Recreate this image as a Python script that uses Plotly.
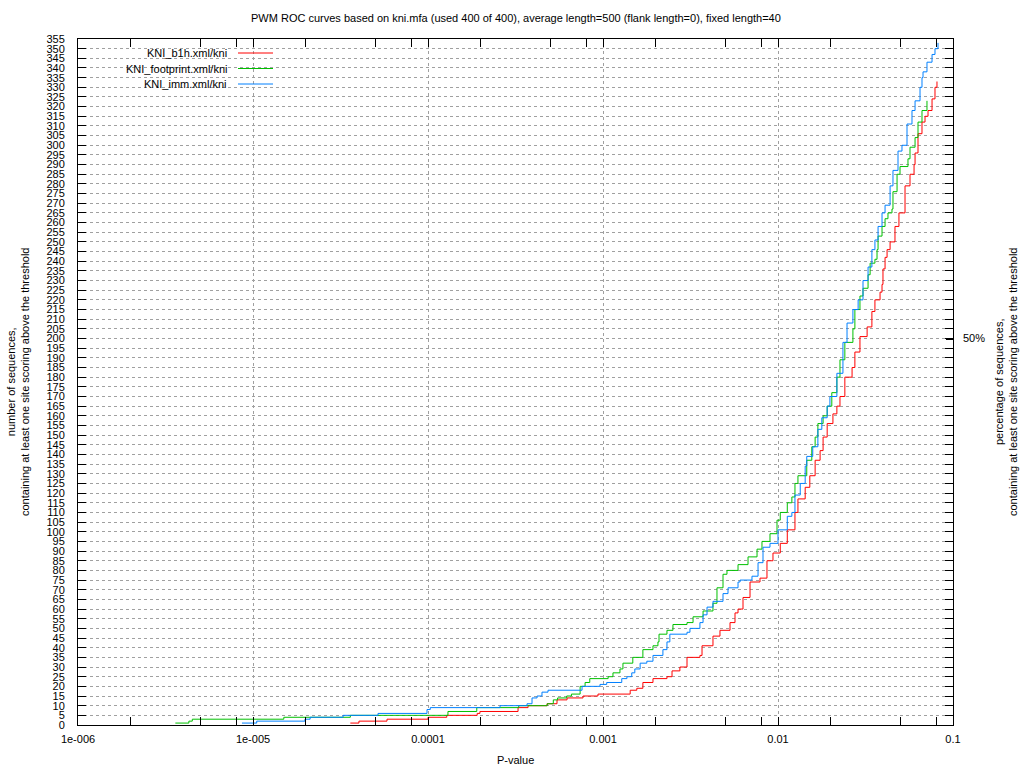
import plotly.graph_objects as go

# ROC step curves: p-value thresholds where the count steps up, and the count reached
b1h_p = [3.6e-5, 4.03e-5, 5.83e-5, 1.0e-4, 1.28e-4, 1.91e-4, 1.98e-4, 3.27e-4, 3.73e-4, 4.79e-4,
         5.46e-4, 6.23e-4, 7.69e-4, 9.36e-4, 1.43e-3, 1.56e-3, 1.69e-3, 1.93e-3, 2.32e-3, 2.48e-3,
         2.75e-3, 3.02e-3, 3.58e-3, 3.68e-3, 4.25e-3, 4.66e-3, 5.32e-3, 5.68e-3, 5.91e-3, 6.31e-3,
         6.92e-3, 7.89e-3, 8.65e-3, 9.36e-3, 1.03e-2, 1.13e-2, 1.25e-2, 1.3e-2, 1.43e-2, 1.52e-2,
         1.63e-2, 1.74e-2, 1.81e-2, 1.91e-2, 2.06e-2, 2.17e-2, 2.26e-2, 2.41e-2, 2.65e-2, 2.75e-2,
         2.94e-2, 3.23e-2, 3.44e-2, 3.58e-2, 3.83e-2, 3.93e-2, 3.98e-2, 4.09e-2, 4.2e-2, 4.37e-2,
         4.66e-2, 4.91e-2, 5.32e-2, 5.68e-2, 5.99e-2, 6.07e-2, 6.31e-2, 6.65e-2, 6.92e-2, 7.2e-2,
         7.59e-2, 7.89e-2, 8.1e-2]
b1h_n = [1, 2, 3, 4, 5, 6, 7, 9, 10, 11,
         13, 14, 15, 16, 18, 19, 22, 24, 25, 28,
         30, 35, 36, 41, 46, 49, 53, 58, 60, 66,
         74, 76, 85, 89, 94, 101, 110, 117, 123, 129,
         137, 142, 149, 156, 161, 165, 170, 180, 185, 193,
         201, 206, 214, 220, 224, 228, 236, 242, 246, 250,
         258, 265, 279, 285, 290, 296, 306, 312, 315, 318,
         324, 330, 333]

footprint_p = [3.6e-6, 4.3e-6, 4.5e-6, 1.5e-5, 3.6e-5, 1.3e-4, 1.9e-4, 3.3e-4, 4.8e-4, 5.2e-4,
               5.5e-4, 6.2e-4, 6.6e-4, 7.4e-4, 7.9e-4, 8.4e-4, 1.07e-3, 1.14e-3, 1.25e-3, 1.3e-3,
               1.48e-3, 1.69e-3, 1.93e-3, 2.06e-3, 2.09e-3, 2.32e-3, 2.51e-3, 3.02e-3, 3.27e-3, 3.73e-3,
               4.25e-3, 4.48e-3, 4.85e-3, 5.11e-3, 5.91e-3, 6.74e-3, 7.59e-3, 8.1e-3, 9.0e-3, 9.87e-3,
               1.03e-2, 1.13e-2, 1.2e-2, 1.25e-2, 1.3e-2, 1.46e-2, 1.56e-2, 1.63e-2, 1.69e-2, 1.81e-2,
               1.91e-2, 2.03e-2, 2.17e-2, 2.26e-2, 2.41e-2, 2.68e-2, 2.75e-2, 2.94e-2, 3.06e-2, 3.27e-2,
               3.36e-2, 3.58e-2, 3.68e-2, 3.73e-2, 3.93e-2, 4.09e-2, 4.25e-2, 4.48e-2, 4.54e-2, 4.79e-2,
               4.98e-2, 5.53e-2, 5.68e-2, 6.07e-2, 6.31e-2, 6.65e-2, 7.1e-2]
footprint_n = [1, 2, 3, 4, 5, 7, 9, 10, 11, 13,
               14, 15, 16, 20, 22, 24, 25, 27, 29, 32,
               35, 39, 41, 43, 47, 49, 52, 53, 56, 59,
               63, 71, 78, 80, 83, 87, 91, 95, 99, 106,
               110, 115, 118, 125, 129, 137, 144, 149, 156, 160,
               165, 172, 180, 189, 198, 205, 215, 222, 226, 233,
               239, 241, 246, 253, 258, 262, 265, 267, 276, 285,
               289, 293, 299, 304, 312, 318, 323]

imm_p = [8.65e-6, 1.05e-5, 1.98e-5, 2.12e-5, 3.27e-5, 5.18e-5, 9.87e-5, 1.03e-4, 2.58e-4, 3.68e-4,
         3.93e-4, 4.2e-4, 4.48e-4, 4.85e-4, 7.59e-4, 9.61e-4, 1.05e-3, 1.28e-3, 1.37e-3, 1.46e-3,
         1.52e-3, 1.63e-3, 1.78e-3, 1.93e-3, 2.2e-3, 2.32e-3, 2.41e-3, 3.02e-3, 3.14e-3, 3.58e-3,
         3.73e-3, 3.93e-3, 4.25e-3, 4.85e-3, 5.18e-3, 5.91e-3, 6.07e-3, 7.1e-3, 7.69e-3, 8.21e-3,
         9.0e-3, 1.0e-2, 1.13e-2, 1.2e-2, 1.25e-2, 1.34e-2, 1.43e-2, 1.46e-2, 1.58e-2, 1.69e-2,
         1.78e-2, 1.91e-2, 1.98e-2, 2.17e-2, 2.35e-2, 2.48e-2, 2.68e-2, 2.87e-2, 3.06e-2, 3.27e-2,
         3.44e-2, 3.58e-2, 3.73e-2, 3.93e-2, 4.09e-2, 4.37e-2, 4.54e-2, 4.85e-2, 5.11e-2, 5.46e-2,
         5.83e-2, 6.07e-2, 6.48e-2, 6.65e-2, 6.74e-2, 7.1e-2, 7.59e-2, 7.89e-2, 8.21e-2]
imm_n = [1, 2, 3, 4, 5, 6, 8, 9, 10, 11,
         14, 15, 17, 18, 20, 21, 22, 24, 25, 27,
         29, 32, 33, 36, 39, 43, 47, 48, 50, 53,
         57, 61, 64, 68, 71, 74, 75, 77, 84, 92,
         94, 101, 108, 110, 119, 125, 134, 139, 144, 153,
         159, 165, 170, 182, 198, 208, 215, 220, 230, 237,
         246, 251, 258, 265, 269, 279, 287, 297, 300, 311,
         318, 323, 330, 335, 338, 343, 347, 350, 353]

series_names = ["KNI_b1h.xml/kni", "KNI_footprint.xml/kni", "KNI_imm.xml/kni"]
series_colors = ["#ff0000", "#00c000", "#0080ff"]

x_tickvals = [1e-6, 1e-5, 1e-4, 1e-3, 1e-2, 1e-1]
x_ticktext = ["1e-006", "1e-005", "0.0001", "0.001", "0.01", "0.1"]
x_minor = [2e-6, 5e-6, 8e-6, 2e-5, 5e-5, 8e-5, 2e-4, 5e-4, 8e-4,
           2e-3, 5e-3, 8e-3, 2e-2, 5e-2, 8e-2]

title = "PWM ROC curves based on kni.mfa (used 400 of 400), average length=500 (flank length=0), fixed length=40"
font = "Liberation Sans, Arial, sans-serif"

fig = go.Figure()
for name, color, px_, n_ in zip(series_names, series_colors,
                                [b1h_p, footprint_p, imm_p], [b1h_n, footprint_n, imm_n]):
    fig.add_trace(go.Scatter(x=px_, y=n_, mode="lines", name=name, line_shape="hv",
                             line=dict(color=color, width=1), showlegend=False))
# empty trace so the right axis gets drawn
fig.add_trace(go.Scatter(x=[], y=[], yaxis="y2", showlegend=False))

fig.update_layout(
    width=1024, height=768,
    margin=dict(l=78, r=71, t=39, b=43),
    paper_bgcolor="white", plot_bgcolor="white",
    font=dict(family=font, size=11, color="black"),
    xaxis=dict(type="log", range=[-6, -1], tickvals=x_tickvals, ticktext=x_ticktext,
               ticks="inside", ticklen=8, tickcolor="black", showline=True, linecolor="black",
               linewidth=1, mirror="allticks", showgrid=True, gridcolor="#a0a0a0",
               griddash="3px,3px", gridwidth=1, zeroline=False, ticklabelstandoff=4,
               minor=dict(tickvals=x_minor, ticks="inside", ticklen=4, tickcolor="black",
                          showgrid=False)),
    yaxis=dict(range=[0, 355], dtick=5, tick0=0, ticks="inside", ticklen=8, tickcolor="black",
               showline=True, linecolor="black", linewidth=1, mirror="allticks",
               showgrid=True, gridcolor="#a0a0a0", griddash="3px,3px", gridwidth=1,
               zeroline=False, ticklabelstandoff=10),
    yaxis2=dict(range=[0, 355], overlaying="y", side="right", tickvals=[200], ticktext=["50%"],
                ticks="inside", ticklen=7, tickwidth=2, tickcolor="black", showgrid=False,
                showline=False, zeroline=False, ticklabelstandoff=9),
    showlegend=False,
)

# axis titles
fig.add_annotation(text=title, xref="paper", yref="paper", x=0.5, y=1.0 + 21 / 686,
                   showarrow=False, xanchor="center", yanchor="middle", font=dict(size=11))
fig.add_annotation(text="P-value", xref="paper", yref="paper", x=0.5, y=-35 / 686,
                   showarrow=False, xanchor="center", yanchor="middle", font=dict(size=11))
fig.add_annotation(text="number of sequences,<br>containing at least one site scoring above the threshold",
                   xref="paper", yref="paper", x=-60 / 875, y=0.5, textangle=-90,
                   showarrow=False, xanchor="center", yanchor="middle", font=dict(size=11))
fig.add_annotation(text="percentage of sequences,<br>containing at least one site scoring above the threshold",
                   xref="paper", yref="paper", x=1.0 + 53 / 875, y=0.5, textangle=-90,
                   showarrow=False, xanchor="center", yanchor="middle", font=dict(size=11))

# key in the gnuplot style: white box, right-aligned text, sample line on the right
fig.add_shape(type="rect", xref="paper", yref="paper", x0=12 / 875, x1=200 / 875,
              y0=(725 - 93) / 686, y1=(725 - 47) / 686, fillcolor="white",
              line=dict(width=0), layer="between")
for i, (name, color) in enumerate(zip(series_names, series_colors)):
    yp = (725 - (53 + 15.5 * i)) / 686
    fig.add_annotation(text=name, xref="paper", yref="paper", x=151 / 875, y=yp,
                       showarrow=False, xanchor="right", yanchor="middle", font=dict(size=11))
    fig.add_shape(type="line", xref="paper", yref="paper", x0=160 / 875, x1=195 / 875,
                  y0=yp, y1=yp, line=dict(color=color, width=1))

# drop the browser's default 8px body margin so the figure sits at the page corner
fig.write_html("out.html", config={"displayModeBar": False},
               post_script="document.body.style.margin='0';")
